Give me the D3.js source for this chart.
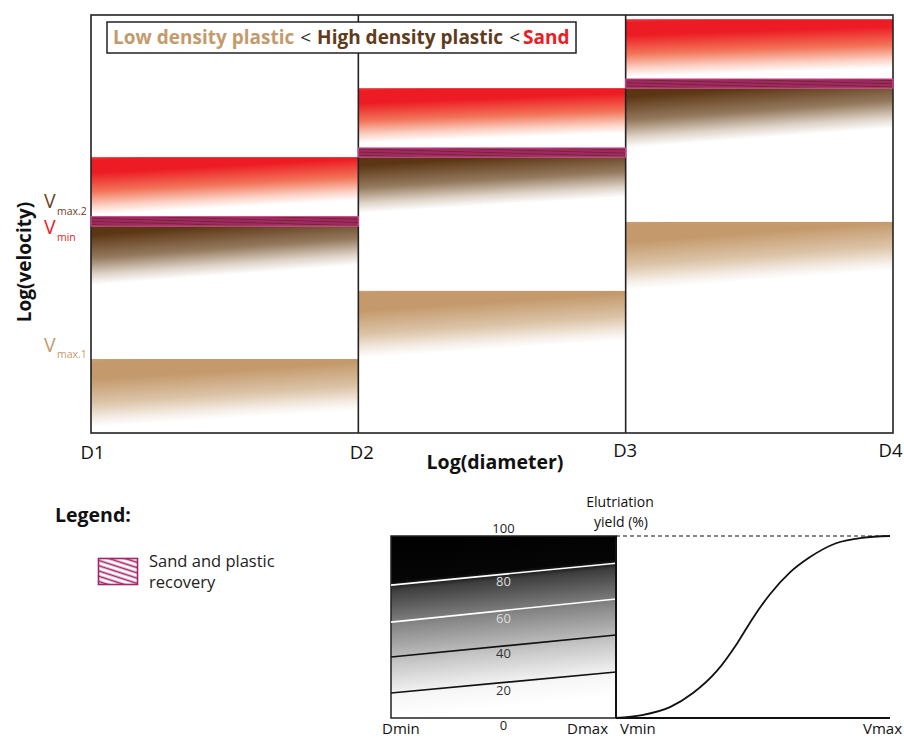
<!DOCTYPE html>
<html><head><meta charset="utf-8">
<script src="https://cdn.jsdelivr.net/npm/d3@7"></script>
<style>body{margin:0;background:#fff;} svg{display:block;font-family:'Open Sans',sans-serif;}</style>
</head><body><svg id="c" width="904" height="738"></svg>
<script>
// ---------- data (top chart: log velocity, arbitrary 0-100 units) ----------
const diameters = ["D1", "D2", "D3", "D4"];
const sandTop        = [66.0, 82.5, 99.0];
const sandFadeLeft   = [52.2, 69.4, 85.2];
const sandFadeRight  = [55.7, 71.8, 87.3];
const recoveryTop    = [51.8, 68.2, 84.7];
const recoveryBottom = [49.5, 66.0, 82.5];
const highFadeLeft   = [35.4, 52.6, 68.2];
const highFadeRight  = [40.2, 56.5, 73.0];
const lowTop         = [17.7, 34.0, 50.5];
const lowFadeLeft    = [1.4, 17.9, 34.2];
const lowFadeRight   = [5.5, 22.2, 39.0];
const vLabelSubs     = ["max.2", "min", "max.1"];
const vLabelValues   = [53.8, 47.6, 19.4];
const legendParts    = ["Low density plastic", "<", "High density plastic", "<", "Sand"];

// ---------- data (bottom charts) ----------
const contourLabels = [80, 60, 40, 20];
const contourLeft   = [73.0, 52.7, 33.5, 13.7];
const contourRight  = [85.0, 65.4, 45.6, 25.3];
const yieldTicks    = [100, 0];
const curveV     = [0, 0.095, 0.197, 0.281, 0.369, 0.442, 0.5, 0.562, 0.635, 0.704, 0.803, 0.898, 1];
const curveYield = [0, 1.6, 6, 13.7, 26, 41, 55, 68, 80, 88, 96, 99, 100];

// ---------- colours ----------
const RED = "#ed1c24", BROWN = "#5c3614", TAN = "#c49a6c", MAG = "#a3246a";

const svg = d3.select("#c");
const defs = svg.append("defs");

const x = d3.scalePoint().domain(diameters).range([91, 893]);
const y = d3.scaleLinear().domain([0, 100]).range([433, 15]);

function slantGrad(id, x0, x1, yTop, yBotL, yBotR, stops) {
  const ang = Math.atan((yBotR - yBotL) / (x1 - x0)) * 180 / Math.PI;
  const g = defs.append("linearGradient").attr("id", id)
    .attr("gradientUnits", "userSpaceOnUse")
    .attr("x1", x0).attr("y1", yTop).attr("x2", x0).attr("y2", yBotL)
    .attr("gradientTransform", `translate(${x0},0) skewY(${ang}) translate(${-x0},0)`);
  stops.forEach(s => g.append("stop").attr("offset", s[0]).attr("stop-color", s[1]));
}

// hatch for recovery band
const hp = defs.append("pattern").attr("id", "bandHatch").attr("patternUnits", "userSpaceOnUse")
  .attr("width", 12).attr("height", 3.2).attr("patternTransform", "rotate(1.6)");
hp.append("rect").attr("width", 12).attr("height", 3.2).attr("fill", "#a5266a");
hp.append("line").attr("x1", 0).attr("x2", 12).attr("y1", 1.2).attr("y2", 1.2)
  .attr("stroke", "#6a2c26").attr("stroke-width", 1);

const lp = defs.append("pattern").attr("id", "legHatch").attr("patternUnits", "userSpaceOnUse")
  .attr("width", 10).attr("height", 5).attr("patternTransform", "rotate(18)");
lp.append("rect").attr("width", 10).attr("height", 5).attr("fill", "#fff");
lp.append("line").attr("x1", 0).attr("x2", 10).attr("y1", 2.5).attr("y2", 2.5)
  .attr("stroke", MAG).attr("stroke-width", 1.7);

const panels = d3.range(3);
const main = svg.append("g");

panels.forEach(i => {
  const x0 = x(diameters[i]), x1 = x(diameters[i + 1]);
  // sand
  slantGrad("sand" + i, x0, x1, y(sandTop[i]), y(sandFadeLeft[i]), y(sandFadeRight[i]),
    [[0, "#ef3b40"], [0.06, RED], [0.28, RED], [0.6, "#f27458"], [0.85, "#fbd2c6"], [1, "#fff"]]);
  main.append("rect").attr("x", x0).attr("y", y(sandTop[i]))
    .attr("width", x1 - x0).attr("height", y(recoveryTop[i]) - y(sandTop[i]))
    .attr("fill", `url(#sand${i})`);
  // high density plastic
  slantGrad("high" + i, x0, x1, y(recoveryBottom[i]), y(highFadeLeft[i]), y(highFadeRight[i]),
    [[0, BROWN], [0.15, BROWN], [0.55, "#957a5e"], [0.82, "#ddd2c6"], [1, "#fff"]]);
  main.append("rect").attr("x", x0).attr("y", y(recoveryBottom[i]))
    .attr("width", x1 - x0).attr("height", y(highFadeLeft[i]) - y(recoveryBottom[i]))
    .attr("fill", `url(#high${i})`);
  // low density plastic
  slantGrad("low" + i, x0, x1, y(lowTop[i]), y(lowFadeLeft[i]), y(lowFadeRight[i]),
    [[0, "#c9a277"], [0.05, TAN], [0.3, TAN], [0.65, "#dcc4a8"], [0.88, "#f5eee6"], [1, "#fff"]]);
  main.append("rect").attr("x", x0).attr("y", y(lowTop[i]))
    .attr("width", x1 - x0).attr("height", y(lowFadeLeft[i]) - y(lowTop[i]))
    .attr("fill", `url(#low${i})`);
});

// frame & dividers
main.append("rect").attr("x", x("D1")).attr("y", 15).attr("width", x("D4") - x("D1")).attr("height", 418)
  .attr("fill", "none").attr("stroke", "#222").attr("stroke-width", 1.6);
["D2", "D3"].forEach(d => main.append("line").attr("x1", x(d)).attr("x2", x(d))
  .attr("y1", 15).attr("y2", 433).attr("stroke", "#222").attr("stroke-width", 1.6));

// recovery bands (on top of dividers)
panels.forEach(i => {
  const x0 = x(diameters[i]), x1 = x(diameters[i + 1]);
  main.append("rect").attr("x", x0).attr("y", y(recoveryTop[i]))
    .attr("width", x1 - x0).attr("height", y(recoveryBottom[i]) - y(recoveryTop[i]))
    .attr("fill", "url(#bandHatch)").attr("stroke", "#d0508e").attr("stroke-width", 1);
});

// legend box
main.append("rect").attr("x", 107).attr("y", 22).attr("width", 469).attr("height", 31)
  .attr("fill", "#fff").attr("stroke", "#222").attr("stroke-width", 1.5);
const legColors = [TAN, "#222", "#603c1c", "#222", RED];
const legGaps = [6, 6, 6, 3, 0];
let lx = 113;
legendParts.forEach((p, k) => {
  const t = main.append("text").attr("x", lx).attr("y", 44).attr("font-size", p === "<" ? 19 : 19)
    .attr("font-weight", p === "<" ? "normal" : "bold").attr("fill", legColors[k]).text(p);
  lx += t.node().getComputedTextLength() + legGaps[k];
});

// x tick labels
const xAxis = d3.axisBottom(x).tickSize(0).tickPadding(0);
const xg = main.append("g").attr("transform", "translate(0,446)").call(xAxis);
xg.select(".domain").remove();
xg.selectAll("text").attr("font-size", 18.5).attr("fill", "#111").attr("dy", "0.71em")
  .attr("font-family", "'Open Sans',sans-serif")
  .attr("dx", (d, k) => [1, 3, -1, -3][k])
  .attr("y", (d, k) => [0, 0, -2, -2][k]);

main.append("text").attr("x", 495).attr("y", 469).attr("text-anchor", "middle")
  .attr("font-size", 19.5).attr("font-weight", "bold").attr("fill", "#111").text("Log(diameter)");
main.append("text").attr("transform", "translate(31,262) rotate(-90)").attr("text-anchor", "middle")
  .attr("font-size", 19).attr("font-weight", "bold").attr("fill", "#111").text("Log(velocity)");

// V labels
const vColors = ["#6a4523", RED, TAN];
vLabelSubs.forEach((s, k) => {
  const yy = y(vLabelValues[k]);
  main.append("text").attr("x", 44).attr("y", yy).attr("fill", vColors[k]).attr("font-size", 19.5).text("V");
  main.append("text").attr("x", 57).attr("y", yy + 6.5).attr("fill", vColors[k]).attr("font-size", 10.5).text(s);
});

// ---------- bottom: legend ----------
svg.append("text").attr("x", 55).attr("y", 522).attr("font-size", 19.5).attr("font-weight", "bold")
  .attr("fill", "#111").text("Legend:");
svg.append("rect").attr("x", 98.5).attr("y", 558.5).attr("width", 39).attr("height", 26)
  .attr("fill", "url(#legHatch)").attr("stroke", MAG).attr("stroke-width", 1.6);
svg.append("text").attr("x", 149).attr("y", 567).attr("font-size", 16.5).attr("fill", "#222").text("Sand and plastic");
svg.append("text").attr("x", 149).attr("y", 588).attr("font-size", 16.5).attr("fill", "#222").text("recovery");

// ---------- bottom: D-V contour chart ----------
const xD = d3.scaleLinear().domain([0, 1]).range([391, 616]);
const yV = d3.scaleLinear().domain([0, 100]).range([718, 536]);
slantGrad("mini", xD(0), xD(1), yV(100), yV(0), yV(0) + (yV(contourRight[0]) - yV(contourLeft[0])),
  [[0, "#000"], [0.25, "#060606"], [0.3, "#3e3e3e"], [0.5, "#888"], [0.7, "#c6c6c6"], [0.88, "#f6f6f6"], [1, "#fff"]]);
svg.append("rect").attr("x", xD(0)).attr("y", yV(100)).attr("width", xD(1) - xD(0)).attr("height", yV(0) - yV(100))
  .attr("fill", "url(#mini)").attr("stroke", "#222").attr("stroke-width", 1.5);
contourLabels.forEach((c, k) => {
  svg.append("line").attr("x1", xD(0)).attr("x2", xD(1))
    .attr("y1", yV(contourLeft[k])).attr("y2", yV(contourRight[k]))
    .attr("stroke", c > 50 ? "#fff" : "#111").attr("stroke-width", 1.6);
  const mid = (yV(contourLeft[k]) + yV(contourRight[k])) / 2;
  svg.append("text").attr("x", xD(0.5)).attr("y", mid + 12).attr("text-anchor", "middle")
    .attr("font-size", 13).attr("fill", c > 50 ? "#ddd" : "#333").text(c);
});
svg.append("text").attr("x", xD(0.5)).attr("y", yV(100) - 3).attr("text-anchor", "middle")
  .attr("font-size", 13).attr("fill", "#222").text(yieldTicks[0]);
svg.append("text").attr("x", xD(0.5)).attr("y", yV(0) + 12).attr("text-anchor", "middle")
  .attr("font-size", 13).attr("fill", "#222").text(yieldTicks[1]);
svg.append("text").attr("x", xD(0) - 9).attr("y", 734).attr("font-size", 15).attr("fill", "#111").text("Dmin");
svg.append("text").attr("x", xD(1) - 8).attr("y", 734).attr("text-anchor", "end").attr("font-size", 15).attr("fill", "#111").text("Dmax");

// ---------- bottom: yield curve ----------
const xV = d3.scaleLinear().domain([0, 1]).range([616, 890]);
svg.append("line").attr("x1", xV(0)).attr("x2", xV(1)).attr("y1", yV(100)).attr("y2", yV(100))
  .attr("stroke", "#111").attr("stroke-width", 1.2).attr("stroke-dasharray", "4,3");
svg.append("line").attr("x1", xV(0)).attr("x2", xV(1)).attr("y1", yV(0)).attr("y2", yV(0))
  .attr("stroke", "#111").attr("stroke-width", 2);
svg.append("line").attr("x1", xV(0)).attr("x2", xV(0)).attr("y1", yV(100)).attr("y2", yV(0))
  .attr("stroke", "#111").attr("stroke-width", 2);
const line = d3.line().x(d => xV(d[0])).y(d => yV(d[1])).curve(d3.curveMonotoneX);
svg.append("path").datum(curveV.map((v, k) => [v, curveYield[k]])).attr("d", line)
  .attr("fill", "none").attr("stroke", "#111").attr("stroke-width", 1.8);
svg.append("text").attr("x", 620).attr("y", 507).attr("text-anchor", "middle").attr("font-size", 14).attr("fill", "#111").text("Elutriation");
svg.append("text").attr("x", 621).attr("y", 527).attr("text-anchor", "middle").attr("font-size", 14).attr("fill", "#111").text("yield (%)");
svg.append("text").attr("x", xV(0) + 4).attr("y", 734).attr("font-size", 15).attr("fill", "#111").text("Vmin");
svg.append("text").attr("x", 902).attr("y", 734).attr("text-anchor", "end").attr("font-size", 15).attr("fill", "#111").text("Vmax");
</script></body></html>
